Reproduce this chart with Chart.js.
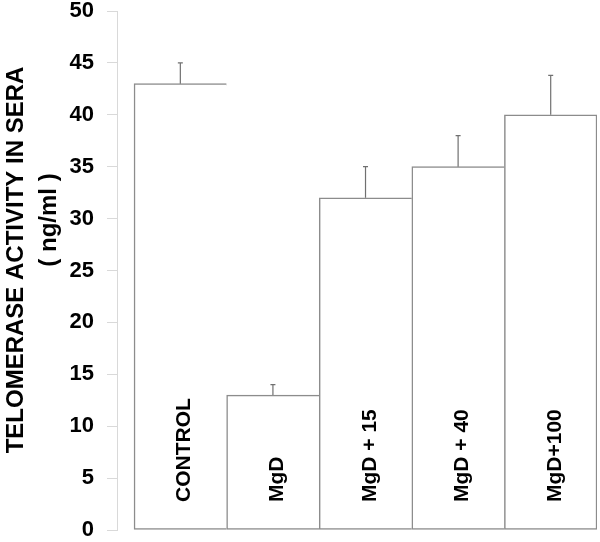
<!DOCTYPE html>
<html>
<head>
<meta charset="utf-8">
<script src="https://cdn.jsdelivr.net/npm/chart.js@4/dist/chart.umd.min.js"></script>
<style>
  html, body { margin: 0; padding: 0; background: #fff; }
  #wrap { width: 600px; height: 542px; }
</style>
</head>
<body>
<div id="wrap"><canvas id="chart" width="600" height="542"></canvas></div>
<script>
const categories = ['CONTROL', 'MgD', 'MgD + 15', 'MgD + 40', 'MgD+100'];
const telomerase = [43, 13, 32, 35, 40];
const errorUp = [2, 1, 3, 3, 3.8];
const yTicks = [0, 5, 10, 15, 20, 25, 30, 35, 40, 45, 50];
const yTitle = ['TELOMERASE ACTIVITY IN SERA', '( ng/ml )'];

const FONT = "'Liberation Sans', Arial, sans-serif";

// error bars, upward only
const errorBars = {
    id: 'errorBars',
    afterDatasetsDraw(chart) {
        const ctx = chart.ctx;
        const y = chart.scales.y;
        const meta = chart.getDatasetMeta(0);
        ctx.save();
        ctx.strokeStyle = '#707070';
        ctx.lineWidth = 1.2;
        meta.data.forEach((bar, i) => {
            const top = y.getPixelForValue(telomerase[i] + errorUp[i]);
            const base = y.getPixelForValue(telomerase[i]);
            ctx.beginPath();
            ctx.moveTo(bar.x, base);
            ctx.lineTo(bar.x, top);
            ctx.moveTo(bar.x - 2.5, top);
            ctx.lineTo(bar.x + 2.5, top);
            ctx.stroke();
        });
        ctx.restore();
    }
};

// category names written upright inside the bars, and the y title
const labelsAndTitle = {
    id: 'labelsAndTitle',
    afterDraw(chart) {
        const ctx = chart.ctx;
        const y = chart.scales.y;
        const meta = chart.getDatasetMeta(0);
        const zero = y.getPixelForValue(0);
        ctx.save();
        ctx.fillStyle = '#000';
        ctx.font = 'bold 21px ' + FONT;
        ctx.textAlign = 'left';
        ctx.textBaseline = 'alphabetic';
        meta.data.forEach((bar, i) => {
            ctx.save();
            ctx.translate(bar.x + 10, zero - 28);
            ctx.rotate(-Math.PI / 2);
            ctx.fillText(categories[i], 0, 0);
            ctx.restore();
        });

        ctx.textAlign = 'center';
        ctx.font = 'bold 24px ' + FONT;
        ctx.save();
        ctx.translate(23, 260);
        ctx.rotate(-Math.PI / 2);
        ctx.fillText(yTitle[0], 0, 0);
        ctx.restore();
        ctx.save();
        ctx.translate(56, 220);
        ctx.rotate(-Math.PI / 2);
        ctx.fillText(yTitle[1], 0, 0);
        ctx.restore();
        ctx.restore();
    }
};

new Chart(document.getElementById('chart'), {
    type: 'bar',
    data: {
        datasets: [{
            data: telomerase.map((v, i) => ({ x: i, y: v })),
            backgroundColor: '#ffffff',
            borderColor: '#8c8c8c',
            borderWidth: ctx => ({
                top: 1.5, left: 1.5, bottom: 1.5,
                right: ctx.dataIndex === categories.length - 1 ? 1.5 : 0
            }),
            borderSkipped: false,
            barPercentage: 1,
            categoryPercentage: 1
        }]
    },
    options: {
        responsive: false,
        animation: false,
        layout: { padding: { top: 11, right: 3, bottom: 12, left: 0 } },
        plugins: {
            legend: { display: false },
            tooltip: { enabled: false }
        },
        scales: {
            x: {
                type: 'linear',
                display: false,
                offset: false,
                min: -0.684,
                max: 4.5,
                afterBuildTicks: scale => { scale.ticks = categories.map((c, i) => ({ value: i })); }
            },
            y: {
                min: 0,
                max: 50,
                afterBuildTicks: scale => { scale.ticks = yTicks.map(v => ({ value: v })); },
                afterFit: scale => {
                    scale.width = 117;
                    scale.paddingTop = 0;
                    scale.paddingBottom = 0;
                },
                border: { display: true, color: '#d9d9d9', width: 1 },
                grid: {
                    drawOnChartArea: false,
                    drawTicks: true,
                    tickLength: 10,
                    color: '#d9d9d9'
                },
                ticks: {
                    padding: 13,
                    color: '#000',
                    font: { family: FONT, size: 22, weight: 'bold', lineHeight: 1 }
                }
            }
        }
    },
    plugins: [errorBars, labelsAndTitle]
});
</script>
</body>
</html>
